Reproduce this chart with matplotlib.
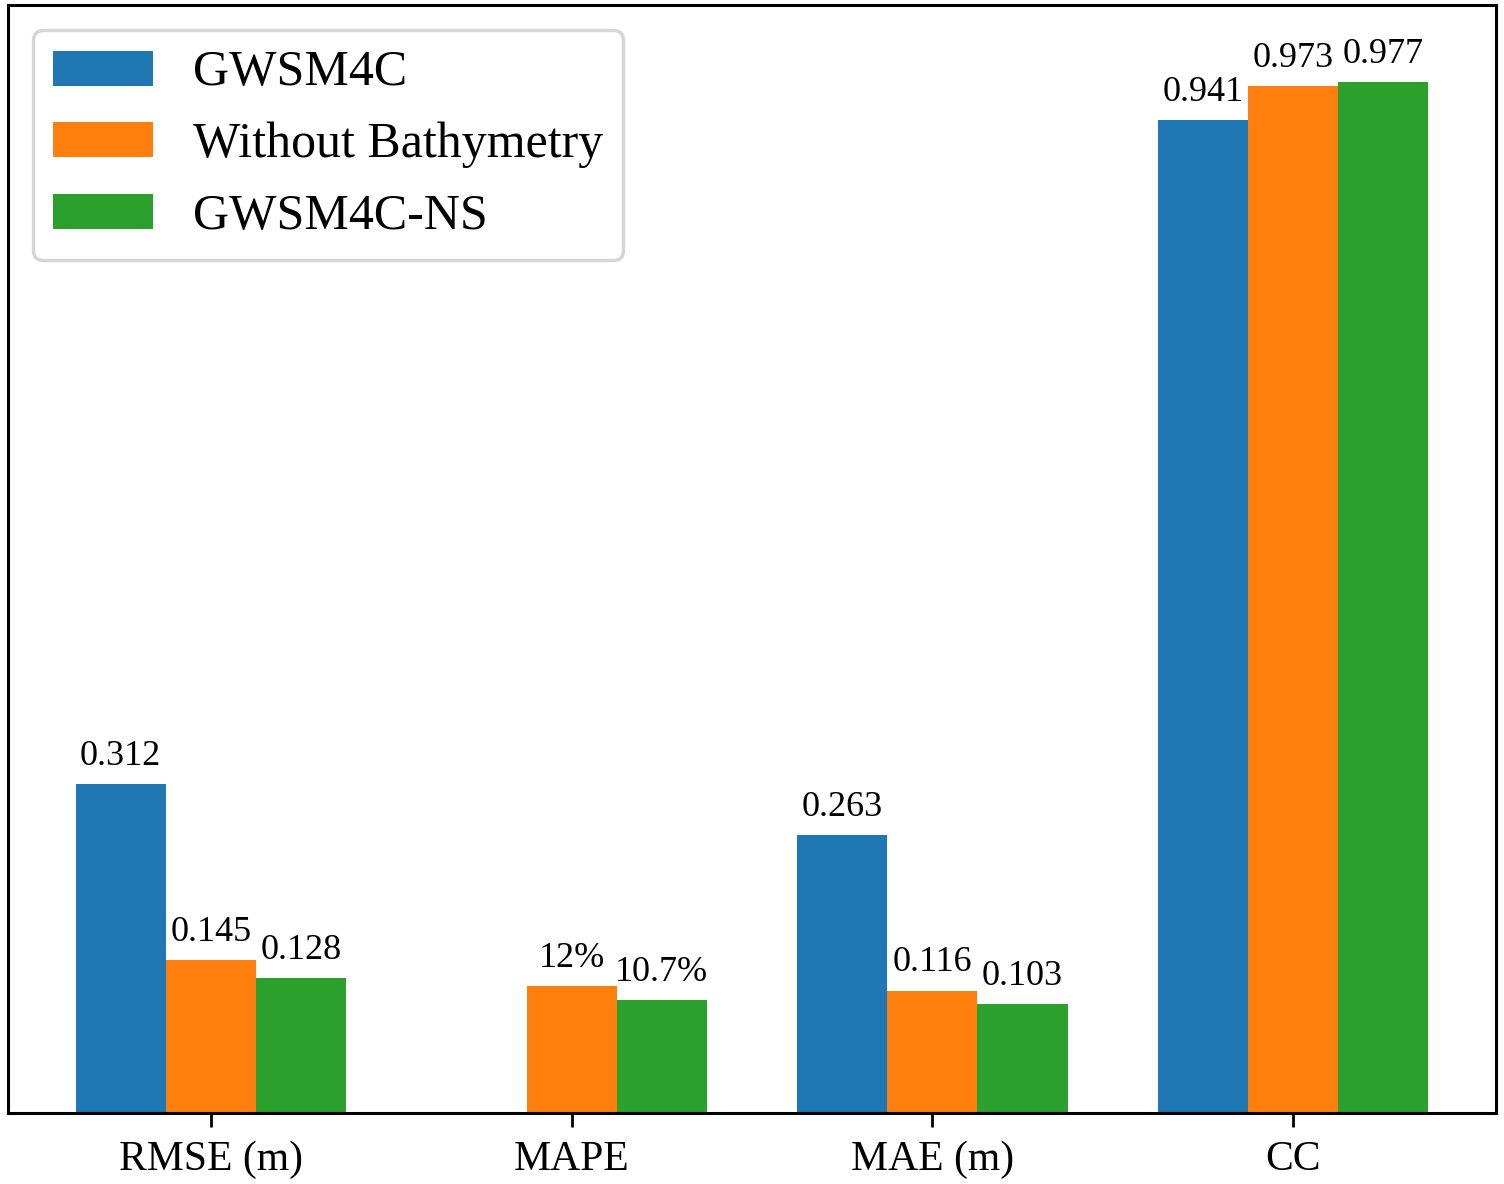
import numpy as np
import matplotlib
matplotlib.use("Agg")
import matplotlib.pyplot as plt

plt.rcParams['font.family'] = ['Liberation Serif', 'DejaVu Serif']

categories = ["RMSE (m)", "MAPE", "MAE (m)", "CC"]
series_names = ["GWSM4C", "Without Bathymetry", "GWSM4C-NS"]
gwsm4c = [0.312, np.nan, 0.263, 0.941]
without_bathy = [0.145, 0.12, 0.116, 0.973]
gwsm4c_ns = [0.128, 0.107, 0.103, 0.977]
labels_gwsm4c = ["0.312", "", "0.263", "0.941"]
labels_without = ["0.145", "12%", "0.116", "0.973"]
labels_ns = ["0.128", "10.7%", "0.103", "0.977"]
colors = ["#1f77b4", "#ff7f0e", "#2ca02c"]

fig = plt.figure(figsize=(15.04, 11.84), dpi=100)
ax = fig.add_axes([8/1504, 1 - 1113/1184, (1496 - 8)/1504, (1113 - 5)/1184])

x = np.arange(len(categories))
w = 0.25
data = [gwsm4c, without_bathy, gwsm4c_ns]
labs = [labels_gwsm4c, labels_without, labels_ns]
for i, (vals, lab) in enumerate(zip(data, labs)):
    bars = ax.bar(x + (i - 1) * w, vals, w, color=colors[i], label=series_names[i])
    ax.bar_label(bars, labels=lab, padding=8, fontsize=26)

ax.set_xticks(x)
ax.set_xticklabels(categories, fontsize=30)
ax.set_yticks([])
ax.set_ylim(0, 1.05)
ax.tick_params(axis='x', length=10, width=2, pad=10)
for s in ax.spines.values():
    s.set_linewidth(2.2)

leg = ax.legend(loc='upper left', fontsize=36, labelspacing=0.5,
                framealpha=0.8, fancybox=True)
leg.get_frame().set_linewidth(2.5)

fig.savefig("out.png", dpi=100)
